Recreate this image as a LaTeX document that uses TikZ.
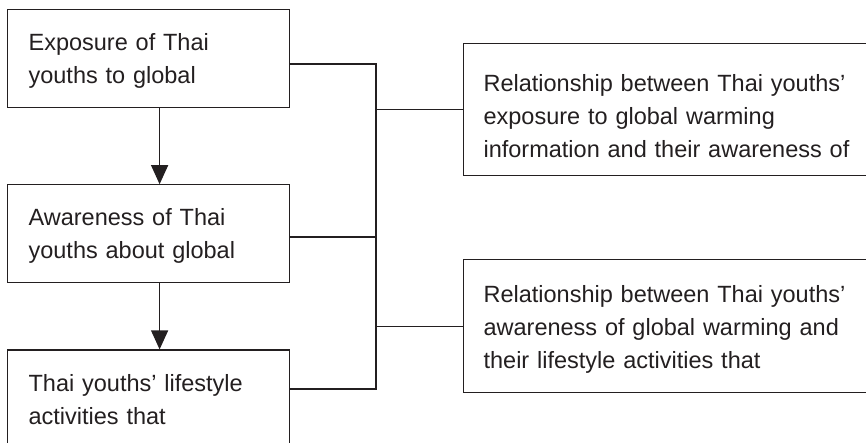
\documentclass[tikz,border=0pt]{standalone}
\usepackage{fontspec}
\setmainfont{Liberation Sans}
\usepackage{xcolor}
\usepackage{tikz}
\usetikzlibrary{positioning}
\usetikzlibrary{arrows.meta,calc}
\definecolor{ink}{HTML}{231F20}
\tikzstyle{box} = [rectangle, draw=ink, line width=1.2pt, text=ink, align=left, inner xsep=21pt, inner ysep=0pt, text width=240pt, text height=41pt, text depth=57pt, font=\fontsize{23.5}{33}\selectfont]
\tikzstyle{relbox} = [box, inner xsep=20pt, text width=380pt, anchor=north west]
\tikzstyle{arrow} = [draw=ink, line width=1.2pt, -{Triangle[width=17pt,length=19pt]}]
\tikzstyle{link} = [draw=ink, line width=1.2pt]

\begin{document}
\begin{tikzpicture}[x=1pt,y=1pt]
		\useasboundingbox (0,0) rectangle (866,-443);
		\clip (0,0) rectangle (866,-443);
		\node[box,anchor=north west] (expo) at (7,-9) {Exposure of Thai\\youths to global};
		\node[box,below=76pt of expo] (awar) {Awareness of Thai\\youths about global};
		\node[box,below=66pt of awar] (life) {Thai youths' lifestyle\\activities that};
		\node[relbox,text height=48pt,text depth=84pt] (rel1) at (463,-43) {Relationship between Thai youths'\\exposure to global warming\\information and their awareness of};
		\node[relbox,text height=43pt,text depth=90pt] (rel2) at (463,-259) {Relationship between Thai youths'\\awareness of global warming and\\their lifestyle activities that};
		\coordinate (bustop) at (376,-64);
		\coordinate (busmid) at (376,-237);
		\coordinate (busbot) at (376,-389);
		\draw[arrow] ([xshift=11pt]expo.south) -- ([xshift=11pt]awar.north);
		\draw[arrow] ([xshift=11pt]awar.south) -- ([xshift=11pt]life.north);
		\draw[link] (expo.east |- bustop) -- (bustop) -- (busbot) -- (life.east |- busbot);
		\draw[link] (awar.east |- busmid) -- (busmid);
		\draw[link] (bustop |- rel1.west) -- (rel1.west);
		\draw[link] (bustop |- rel2.west) -- (rel2.west);
	\end{tikzpicture}
\end{document}
